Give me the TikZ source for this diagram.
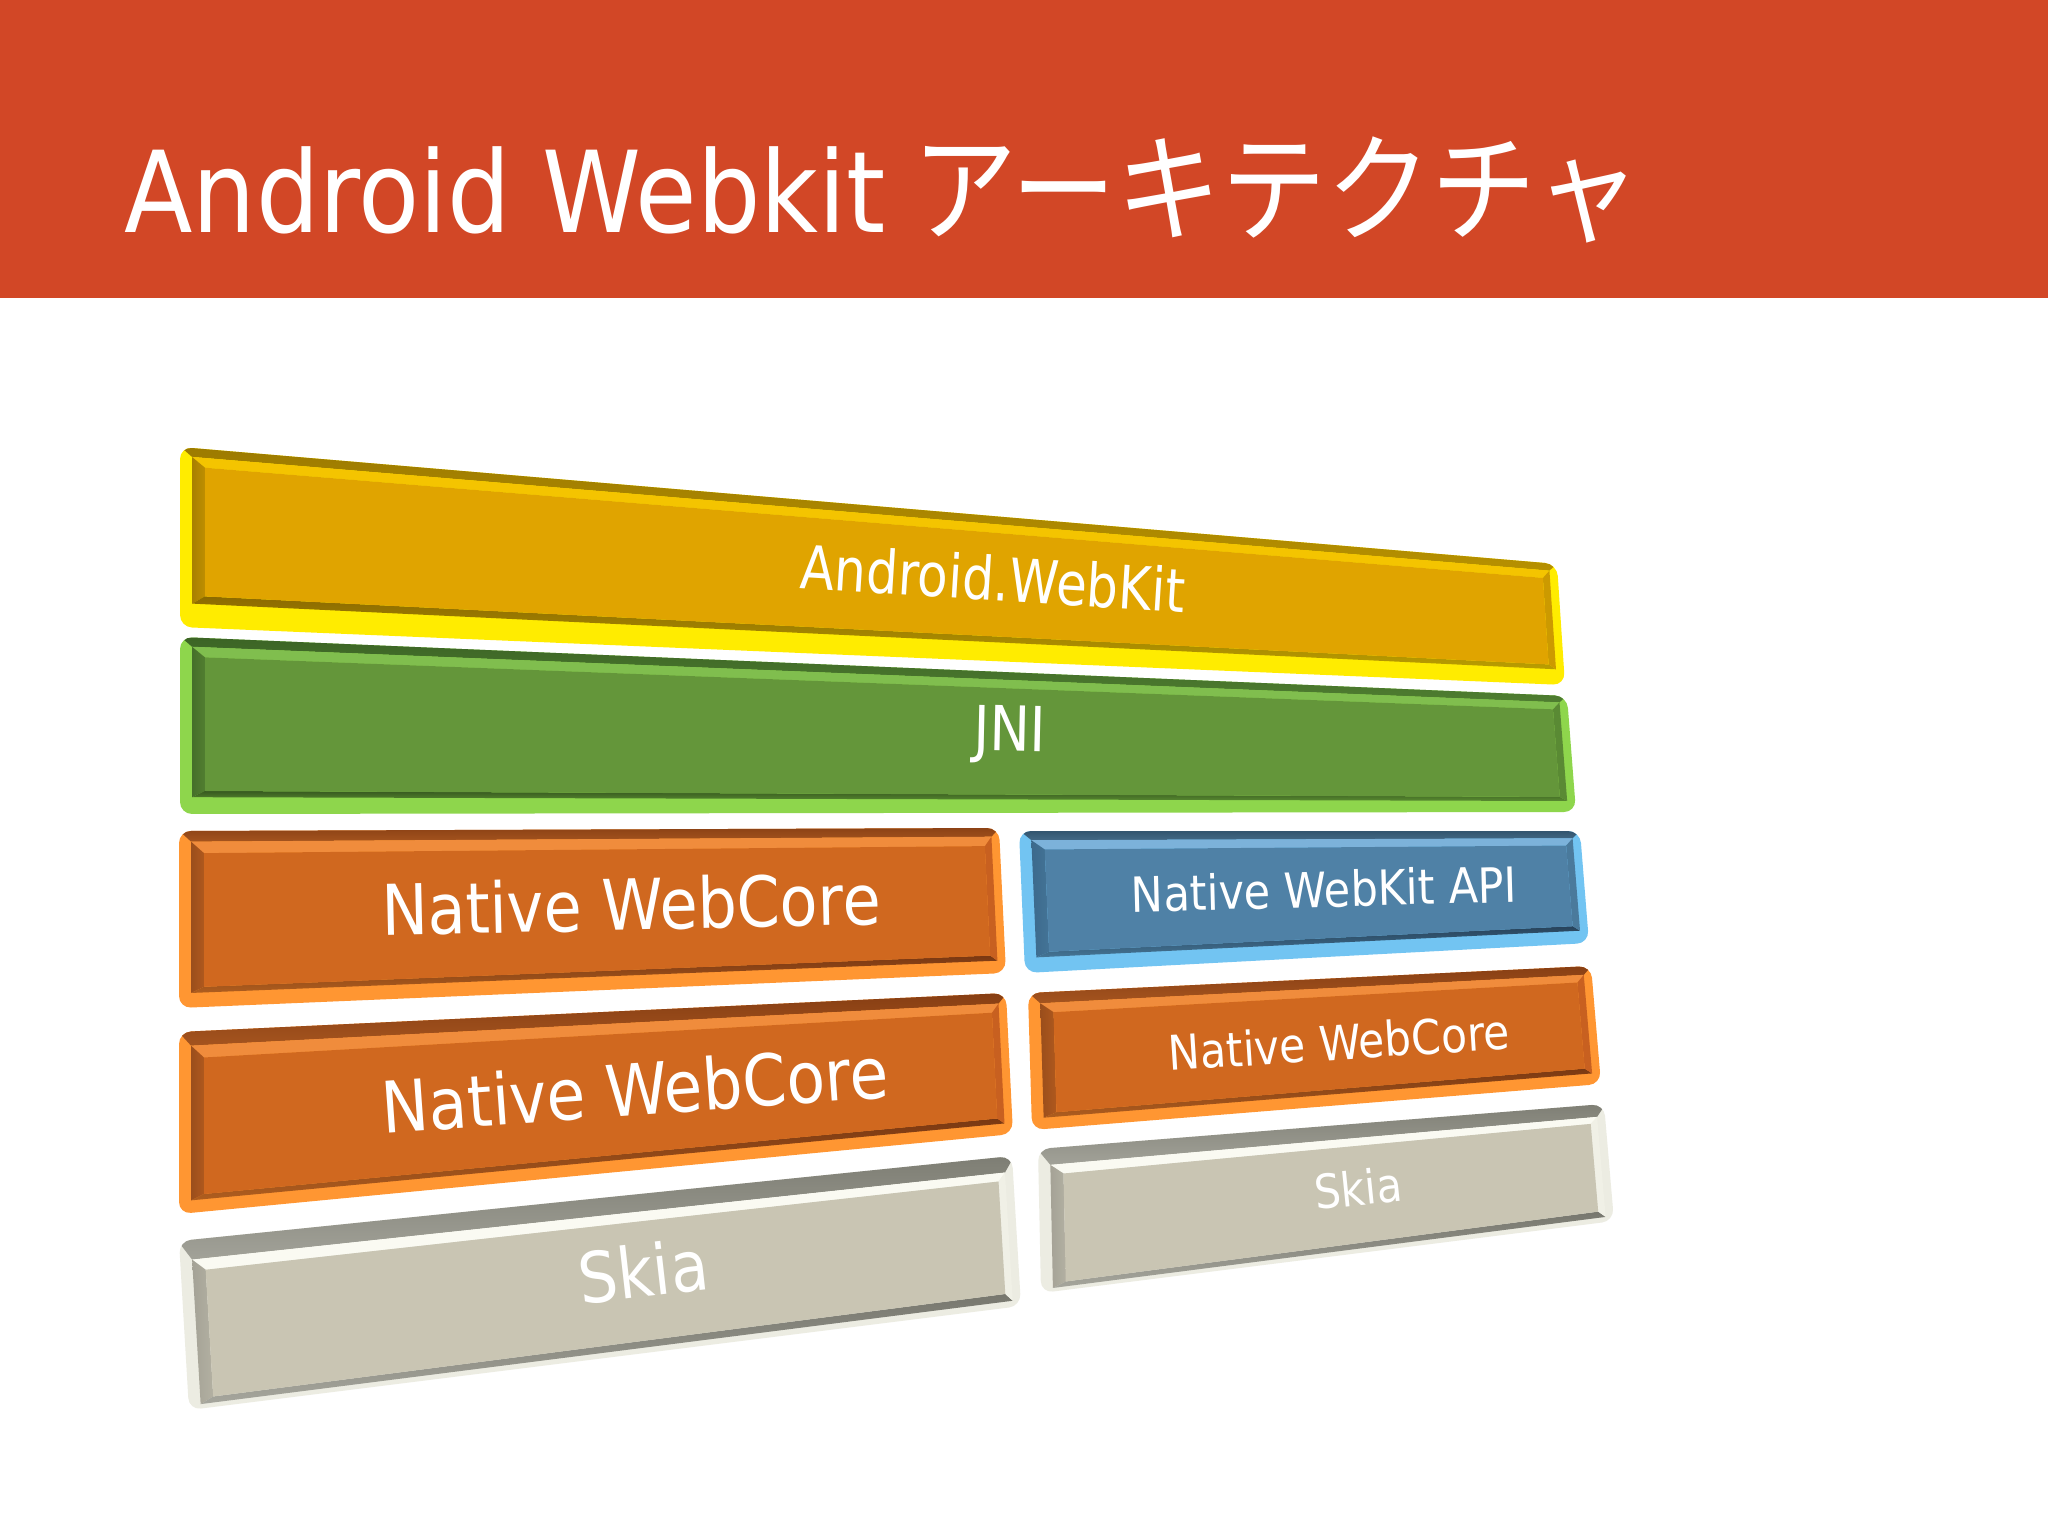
\documentclass[tikz,border=0pt]{standalone}
\usepackage{fontspec}
\setmainfont{DejaVu Sans}
\newfontfamily\jpfont{Noto Sans CJK JP}
\usetikzlibrary{calc}
\definecolor{titlered}{HTML}{D24726}
% yellow
\definecolor{ylwlip}{HTML}{FFEC00}\definecolor{ylwrim}{HTML}{9C7A00}\definecolor{ylwtop}{HTML}{F4C400}
\definecolor{ylwleft}{HTML}{A88000}\definecolor{ylwbot}{HTML}{8C6A00}\definecolor{ylwright}{HTML}{CC9A00}\definecolor{ylwface}{HTML}{E0A400}
% green
\definecolor{grnlip}{HTML}{8ED64C}\definecolor{grnrim}{HTML}{3A6224}\definecolor{grntop}{HTML}{80BE4E}
\definecolor{grnleft}{HTML}{456F2A}\definecolor{grnbot}{HTML}{36591F}\definecolor{grnright}{HTML}{5A8A34}\definecolor{grnface}{HTML}{64963A}
% orange
\definecolor{orglip}{HTML}{FF9632}\definecolor{orgrim}{HTML}{843C12}\definecolor{orgtop}{HTML}{F08C3C}
\definecolor{orgleft}{HTML}{9A4E1C}\definecolor{orgbot}{HTML}{7A3812}\definecolor{orgright}{HTML}{C86020}\definecolor{orgface}{HTML}{D0681F}
% blue
\definecolor{blulip}{HTML}{72C4F2}\definecolor{blurim}{HTML}{2A4A62}\definecolor{blutop}{HTML}{7CB2DA}
\definecolor{bluleft}{HTML}{3C6A8C}\definecolor{blubot}{HTML}{27425A}\definecolor{bluright}{HTML}{4A7A9C}\definecolor{bluface}{HTML}{4F81A6}
% gray
\definecolor{grylip}{HTML}{ECECE2}\definecolor{gryrim}{HTML}{7C7C72}\definecolor{grytop}{HTML}{FAFAF2}
\definecolor{gryleft}{HTML}{A4A296}\definecolor{grybot}{HTML}{77776E}\definecolor{gryright}{HTML}{F0F0E6}\definecolor{gryface}{HTML}{C9C5B3}

\newcommand\drawslab[9]{%
  \coordinate (sTL) at #2; \coordinate (sTR) at #3;
  \coordinate (sBR) at #4; \coordinate (sBL) at #5;
  \coordinate (M1) at ($($(sTL)!#6!(sBL)$)+(12,0)$);
  \coordinate (M2) at ($($(sTR)!#6!(sBR)$)+(-8,0)$);
  \coordinate (M3) at ($($(sTR)!#9!(sBR)$)+(-8,0)$);
  \coordinate (M4) at ($($(sTL)!#9!(sBL)$)+(12,0)$);
  \coordinate (F1) at ($($(sTL)!#7!(sBL)$)+(25,0)$);
  \coordinate (F2) at ($($(sTR)!#7!(sBR)$)+(-15,0)$);
  \coordinate (F3) at ($($(sTR)!#8!(sBR)$)+(-15,0)$);
  \coordinate (F4) at ($($(sTL)!#8!(sBL)$)+(25,0)$);
  \fill[#1lip, rounded corners=12] (sTL)--(sTR)--(sBR)--(sBL)--cycle;
  \begin{scope}
    \clip[rounded corners=12] (sTL)--(sTR)--(sBR)--(sBL)--cycle;
    \shade[top color=#1rim, bottom color=#1rim!70!#1top] ($(sTL)+(-5,-5)$)--($(sTR)+(5,-5)$)--(M2)--(M1)--cycle;
  \end{scope}
  \fill[#1top] (M1)--(M2)--(F2)--(F1)--cycle;
  \shade[left color=#1left, right color=#1left!60!#1face] (M1)--(F1)--(F4)--(M4)--cycle;
  \shade[top color=#1bot, bottom color=#1bot!60!#1lip] (M4)--(F4)--(F3)--(M3)--cycle;
  \fill[#1right] (M2)--(M3)--(F3)--(F2)--cycle;
  \fill[#1face] (F1)--(F2)--(F3)--(F4)--cycle;
}

\tikzset{lbl/.style={text=white, inner sep=0pt, anchor=center}}

\begin{document}
\begin{tikzpicture}[x=1pt, y=-1pt]
\useasboundingbox (0,0) rectangle (2048,1536);
\fill[white] (0,0) rectangle (2048,1536);
\fill[titlered] (0,0) rectangle (2048,298);
\node[text=white, inner sep=0pt, anchor=base west] (title) at (124,232)
  {\scalebox{1}[1.13]{\fontsize{100}{110}\selectfont Android Webkit\hspace{27pt}{\jpfont\fontsize{105}{110}\selectfont アーキテクチャ}}};

% bars
\drawslab{ylw}{(180,447)}{(1557,564)}{(1565,685)}{(180,627)}{0.055}{0.115}{0.83}{0.87}
\drawslab{grn}{(180,637)}{(1567,696)}{(1576,812)}{(180,814)}{0.055}{0.115}{0.87}{0.905}
\drawslab{org}{(179,831)}{(999,828)}{(1006,973)}{(179,1008)}{0.06}{0.125}{0.88}{0.915}
\drawslab{blu}{(1019,831)}{(1580,831)}{(1589,943)}{(1025,973)}{0.065}{0.13}{0.85}{0.89}
\drawslab{org}{(179,1032)}{(1006,993)}{(1013,1134)}{(179,1214)}{0.075}{0.14}{0.89}{0.925}
\drawslab{org}{(1028,993)}{(1591,966)}{(1601,1084)}{(1032,1130)}{0.075}{0.14}{0.87}{0.91}
\drawslab{gry}{(179,1241)}{(1012,1156)}{(1021,1306)}{(189,1410)}{0.11}{0.17}{0.92}{0.965}
\drawslab{gry}{(1038,1149)}{(1604,1104)}{(1614,1221)}{(1041,1293)}{0.11}{0.17}{0.92}{0.965}

% labels
\node[lbl, rotate=-3.6] (tA) at (993,578) {\scalebox{1}[1.2]{\fontsize{50}{60}\selectfont Android.WebKit}};
\node[lbl, rotate=-1.2] (tB) at (1010,735) {\scalebox{1}[1.15]{\fontsize{54}{60}\selectfont JNI}};
\node[lbl, rotate=1.3] (tC) at (631,904) {\scalebox{1}[1.13]{\fontsize{62}{70}\selectfont Native WebCore}};
\node[lbl, rotate=1.5] (tD) at (1324,889) {\scalebox{1}[1.13]{\fontsize{43}{50}\selectfont Native WebKit API}};
\node[lbl, rotate=4.1] (tE) at (635,1089) {\scalebox{1}[1.13]{\fontsize{63}{70}\selectfont Native WebCore}};
\node[lbl, rotate=3.7] (tF) at (1339,1042) {\scalebox{1}[1.13]{\fontsize{42.4}{50}\selectfont Native WebCore}};
\node[lbl, rotate=6.5] (tG) at (643,1271) {\scalebox{1}[1.13]{\fontsize{62}{70}\selectfont Skia}};
\node[lbl, rotate=5.9] (tH) at (1358,1188) {\scalebox{1}[1.13]{\fontsize{41.6}{50}\selectfont Skia}};
\end{tikzpicture}
\end{document}
